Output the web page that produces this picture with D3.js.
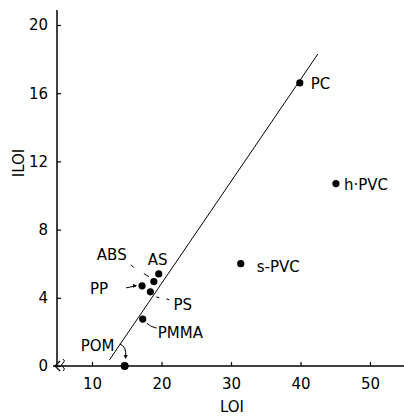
<!DOCTYPE html>
<html>
<head>
<meta charset="utf-8">
<script src="https://cdn.jsdelivr.net/npm/d3@7"></script>
<style>
  body { margin: 0; background: #fff; }
  text { font-family: "DejaVu Sans", sans-serif; font-size: 15px; fill: #000; }
</style>
</head>
<body>
<div id="vis"></div>
<script>
// polymer data
var names = ['PC', 'h\u00b7PVC', 's-PVC', 'AS', 'ABS', 'PP', 'PS', 'PMMA', 'POM'];
var loi   = [39.9, 45.1, 31.4, 19.6, 18.9, 17.2, 18.4, 17.3, 14.7];
var iloi  = [16.6, 10.7, 6.0, 5.4, 4.95, 4.7, 4.35, 2.75, 0];
var fitX  = [12.5, 42.5];
var fitY  = [0.35, 18.3];
var xTicks = [10, 20, 30, 40, 50];
var yTicks = [0, 4, 8, 12, 16, 20];

var width = 404, height = 416;

// label offsets from each point (pixels)
var labelPos = {
  'PC': [11, 6], 'h\u00b7PVC': [8, 6], 's-PVC': [16, 8], 'AS': [-11, -9],
  'ABS': [-57, -22], 'PP': [-52, 8], 'PS': [23, 18], 'PMMA': [15, 19], 'POM': [-44, -15]
};

var svg = d3.select('#vis').append('svg')
    .attr('width', width)
    .attr('height', height);

var xScale = d3.scaleLinear().domain([10, 50]).range([92, 370]);
var yScale = d3.scaleLinear().domain([0, 20]).range([366, 25]);

var x0 = 57, y0 = 366;

// axes
var xAxis = d3.axisBottom(xScale).tickValues(xTicks).tickSize(-4).tickPadding(12);
var yAxis = d3.axisLeft(yScale).tickValues(yTicks).tickSize(-4).tickPadding(9);

var gx = svg.append('g').attr('transform', `translate(0, ${y0})`).call(xAxis);
var gy = svg.append('g').attr('transform', `translate(${x0}, 0)`).call(yAxis);

[gx, gy].forEach((g) => {
  g.select('.domain').remove();
  g.selectAll('line').attr('stroke', '#000').attr('stroke-width', 1.2);
  g.selectAll('text').style('font-family', '"DejaVu Sans", sans-serif').style('font-size', '15px').attr('fill', '#000');
});

svg.append('line')
   .attr('x1', x0 - 4).attr('y1', y0).attr('x2', width).attr('y2', y0)
   .attr('stroke', '#000').attr('stroke-width', 1.5);
svg.append('line')
   .attr('x1', x0).attr('y1', 10).attr('x2', x0).attr('y2', y0)
   .attr('stroke', '#000').attr('stroke-width', 1.5);

// axis break squiggle
svg.append('path')
   .attr('d', `M${x0 + 6},${y0 - 7} q3,2 0,4 q-3,2 0,4 q3,2 0,4`)
   .attr('fill', 'none').attr('stroke', '#000').attr('stroke-width', 1);
svg.append('path')
   .attr('d', `M${x0 + 3},${y0 - 5} L${x0 - 2},${y0} L${x0 + 3},${y0 + 5}`)
   .attr('fill', 'none').attr('stroke', '#000').attr('stroke-width', 1.2);

// axis titles
svg.append('text')
   .attr('x', 232).attr('y', 412)
   .attr('text-anchor', 'middle')
   .text('LOI');
svg.append('text')
   .attr('transform', 'translate(24, 163) rotate(-90)')
   .attr('text-anchor', 'middle')
   .text('ILOI');

// fitted line
svg.append('line')
   .attr('x1', xScale(fitX[0])).attr('y1', yScale(fitY[0]))
   .attr('x2', xScale(fitX[1])).attr('y2', yScale(fitY[1]))
   .attr('stroke', '#000').attr('stroke-width', 1);

var data = names.map((n, i) => ({ name: n, x: loi[i], y: iloi[i] }));

svg.selectAll('circle.pt')
   .data(data)
   .enter()
   .append('circle')
   .attr('class', 'pt')
   .attr('cx', (d) => xScale(d.x))
   .attr('cy', (d) => yScale(d.y))
   .attr('r', (d) => d.name === 'POM' ? 4 : 3.6)
   .attr('fill', '#000');

svg.selectAll('text.lbl')
   .data(data)
   .enter()
   .append('text')
   .attr('class', 'lbl')
   .attr('x', (d) => xScale(d.x) + labelPos[d.name][0])
   .attr('y', (d) => yScale(d.y) + labelPos[d.name][1])
   .text((d) => d.name);

// leader lines, offsets relative to each point
var byName = {};
data.forEach((d) => { byName[d.name] = [xScale(d.x), yScale(d.y)]; });

var leader = (name, dStr) => {
  var p = byName[name];
  svg.append('path')
     .attr('transform', `translate(${p[0]}, ${p[1]})`)
     .attr('d', dStr)
     .attr('fill', 'none')
     .attr('stroke', '#000')
     .attr('stroke-width', 1);
};

leader('ABS', 'M-23,-17 L-20,-14 M-10,-8 L-5,-5');
leader('PP', 'M-16,2 L-6,0');
leader('PS', 'M6,5 L9,6 M16,7 L19,8');
leader('PMMA', 'M4,4 Q8,8 14,9');
leader('POM', 'M-5,-22 Q2,-20 1,-9');

// arrow heads
svg.append('path')
   .attr('transform', `translate(${byName['PP'][0]}, ${byName['PP'][1]})`)
   .attr('d', 'M-5,0 L-9,-2 L-9,2 Z')
   .attr('fill', '#000');
svg.append('path')
   .attr('transform', `translate(${byName['POM'][0]}, ${byName['POM'][1]})`)
   .attr('d', 'M1,-7 L-1,-11 L3,-11 Z')
   .attr('fill', '#000');
</script>
</body>
</html>
